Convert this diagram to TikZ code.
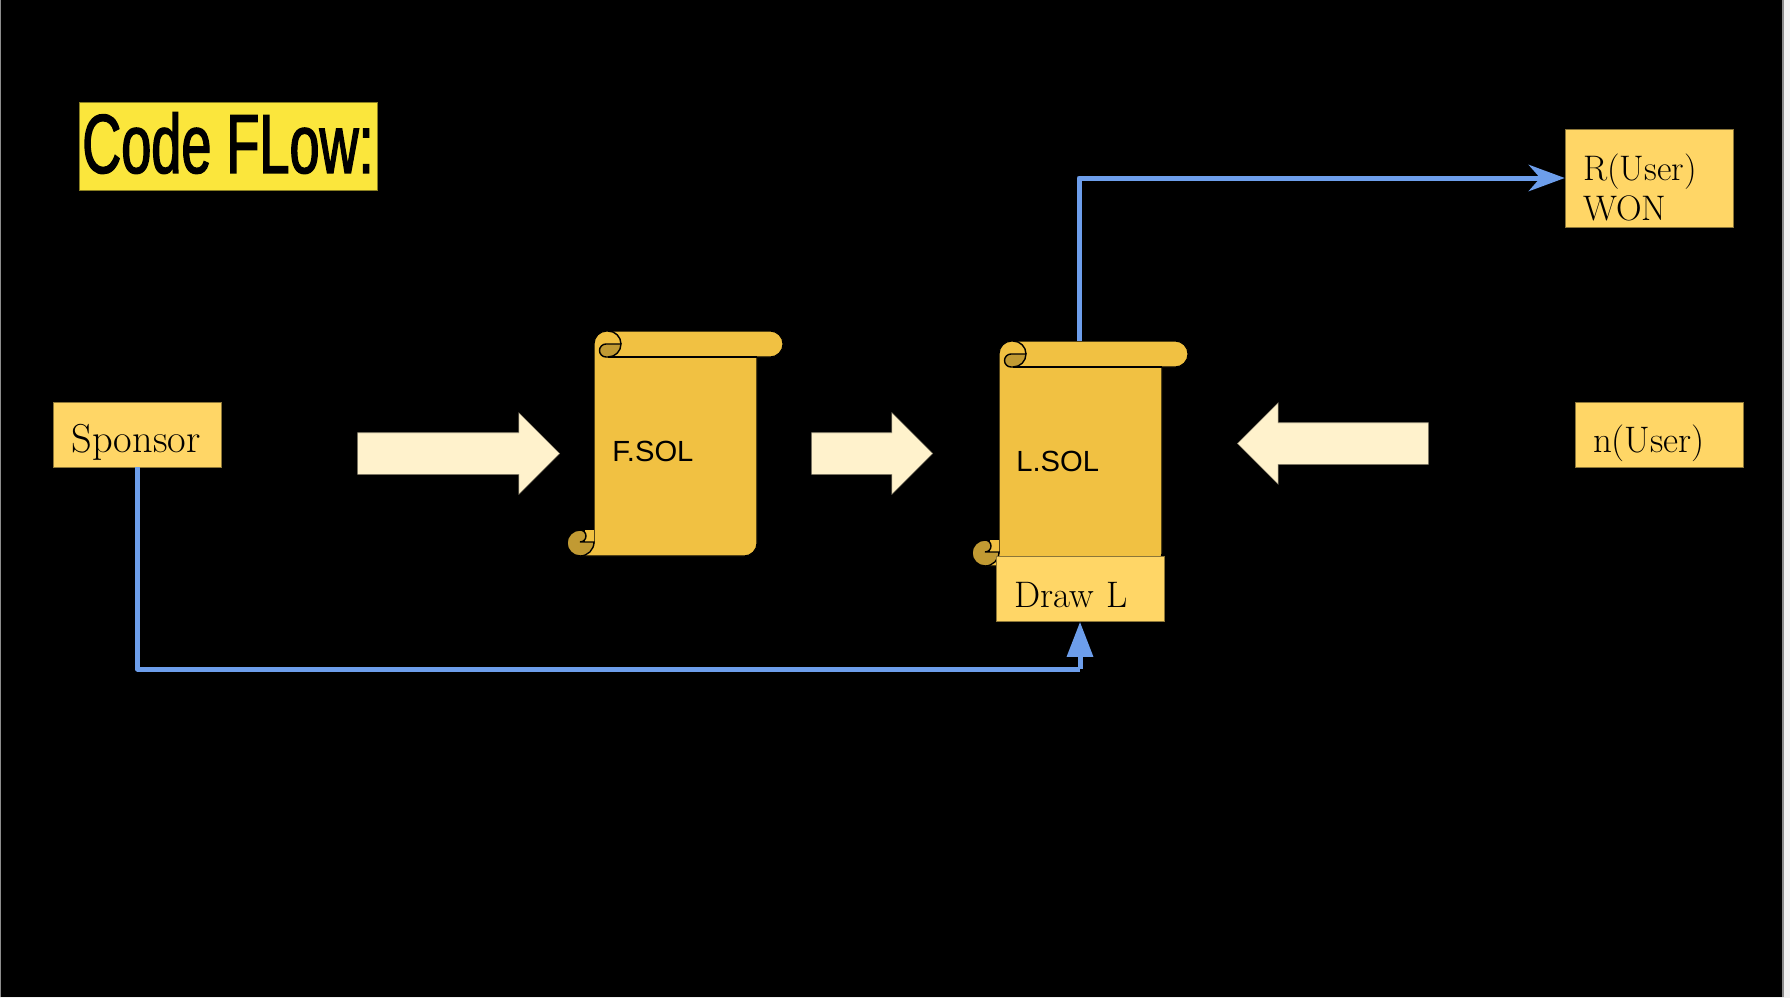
\documentclass[tikz,border=0pt]{standalone}
\usepackage{fontspec}
\usetikzlibrary{arrows.meta,shapes.arrows}
\newfontfamily\titlefont[FakeStretch=0.645,FakeBold=1.6]{Liberation Sans}
\newfontfamily\labelfont{Liberation Sans}

\definecolor{titleyellow}{HTML}{FBE63C}
\definecolor{boxyellow}{HTML}{FFD666}
\definecolor{sheetyellow}{HTML}{F1C142}
\definecolor{curlbrown}{HTML}{C19A33}
\definecolor{arrowcream}{HTML}{FFF2CC}
\definecolor{linkblue}{HTML}{6D9EEB}

\tikzset{
    namebox/.style={rectangle,draw=boxyellow!55!black,line width=0.3pt,fill=boxyellow,
        inner ysep=0pt,inner xsep=18*0.02cm,
        minimum height=65*0.02cm,text width=132*0.02cm,align=left,
        text height=21pt,text depth=0pt,font=\fontsize{21}{23.3}\selectfont},
    flowarrow/.style={single arrow,draw=arrowcream!55!black,line width=0.3pt,fill=arrowcream,
        inner xsep=0pt,inner ysep=20.5*0.02cm,
        single arrow head extend=20*0.02cm,anchor=tip},
    sheetlabel/.style={anchor=base west,inner sep=0pt,font=\labelfont\fontsize{16.6}{19}\selectfont},
    link/.style={linkblue,line width=2.85pt,line join=round},
    scrollsheet/.pic={
        % body with the rolled top edge
        \draw [fill=sheetyellow,line width=0.6pt]
            (0,-13) arc (180:90:13) -- (176,0) arc (90:-90:13) -- (163,-26)
            -- (163,-212) arc (0:-90:13) -- (-14,-225) -- (0,-212) -- cycle;
        \draw [line width=0.8pt] (14,-26) -- (163,-26);
        % top curl
        \draw [fill=curlbrown,line width=0.8pt]
            (27,-13) arc (0:-90:13) -- (12,-26) arc (270:90:6.5) -- cycle;
        \draw [line width=0.8pt] (14,0) arc (90:0:13);
        % bottom curl
        \fill [sheetyellow] (-9,-199) rectangle (0,-211);
        \draw [fill=curlbrown,line width=0.8pt]
            (-14,-225) arc (270:90:13) arc (90:-90:6) -- (0,-211)
            arc (0:-90:14) -- cycle;
        \coordinate (-top) at (80,0);
    }
}

\begin{document}
\begin{tikzpicture}[x=0.02cm,y=0.02cm]
    \useasboundingbox (0,0) rectangle (1790,-998);
    \fill [black!6] (0,0) rectangle (1790,-998);
    \fill [black!45] (0,0) rectangle (1784,-997);
    \fill [black] (1,0) rectangle (1782,-997);

    \node [rectangle,draw=titleyellow!55!black,line width=0.3pt,fill=titleyellow,inner sep=0pt,
        minimum width=298*0.02cm,minimum height=88*0.02cm,
        text height=30.7pt,text depth=0pt,font=\titlefont\fontsize{47.7}{50}\selectfont]
        (title) at (228,-146) {Code FLow:};

    \pic (fscroll) at (594,-331) {scrollsheet};
    \pic (lscroll) at (999,-341) {scrollsheet};
    \node [sheetlabel] (fsol) at (612,-461) {F.SOL};
    \node [sheetlabel] (lsol) at (1016,-471) {L.SOL};

    \node [namebox,font=\fontsize{23}{25}\selectfont] (sponsor) at (137.5,-434.5) {Sponsor};
    \node [namebox] (drawl) at (1080,-589) {Draw L};
    \node [namebox] (nuser) at (1659,-434.5) {n(User)};
    \node [namebox,minimum height=98*0.02cm,text height=14pt,text depth=11.7pt,
        font=\fontsize{20.2}{23.3}\selectfont]
        (ruser) at (1649,-178) {R(User)\\WON};

    \node [flowarrow,minimum height=202*0.02cm] (sponsorarrow) at (560,-453.5) {};
    \node [flowarrow,minimum height=121*0.02cm] (fsolarrow) at (933,-453.5) {};
    \node [flowarrow,minimum height=191*0.02cm,shape border rotate=180] (userarrow) at (1237,-443.5) {};

    \coordinate (lowbend) at (1080,-669);
    \draw [link] (sponsor.south) |- (lowbend);
    \draw [link,-{Triangle[length=20pt,width=14.5pt]}] (lowbend) -- (drawl.south);
    \draw [link,-{Stealth[length=20.5pt,width=15pt,inset=6.5pt]}] (lscroll-top) |- (ruser.west);
\end{tikzpicture}
\end{document}
